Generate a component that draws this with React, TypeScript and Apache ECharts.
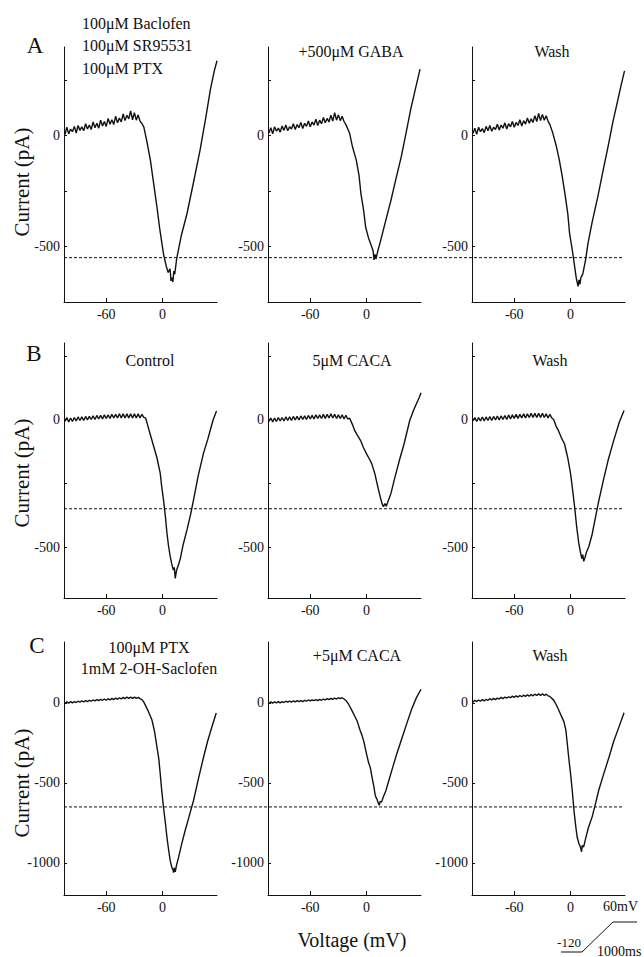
import * as React from "react";
import * as echarts from "echarts";

// voltage steps (mV) of the noisy plateau, shared by all nine traces
const flatV = [
  -104, -102, -100, -98, -96, -94, -92, -90, -88, -86,
  -84, -82, -80, -78, -76, -74, -72, -70, -68, -66,
  -64, -62, -60, -58, -56, -54, -52, -50, -48, -46,
  -44, -42, -40, -38, -36, -34, -32, -30, -28, -26,
  -24,
];

// row A: 100µM Baclofen / SR95531 / PTX, +500µM GABA, Wash
const a1Flat = [5, 38, 8, 30, 18, 42, 12, 46, 24, 40, 22, 54, 30, 48, 28, 62, 36, 56, 34, 70, 44, 64, 42, 78, 52, 72, 50, 88, 58, 80, 62, 98, 68, 92, 76, 112, 72, 104, 70, 94, 66];
const a1Ramp = [[-22, 55], [-20, 40], [-17, -20], [-13, -109], [-10, -200], [-6, -321], [-3, -420], [1, -533], [4, -590], [6, -617], [8, -600], [9, -655], [10, -640], [11, -660], [12, -610], [13, -625], [15, -556], [20, -450], [26, -352], [33, -210], [40, -64], [46, 80], [51, 209], [55, 290], [58, 338]];
const a2Flat = [12, 36, 8, 40, 20, 34, 16, 44, 24, 48, 22, 40, 30, 54, 28, 50, 36, 60, 32, 56, 42, 66, 40, 62, 48, 74, 46, 70, 54, 82, 58, 78, 62, 92, 66, 104, 70, 94, 68, 88, 64];
const a2Ramp = [[-22, 50], [-20, 30], [-18, 10], [-15, -50], [-11, -109], [-8, -180], [-6, -261], [-3, -340], [-1, -412], [2, -460], [5, -495], [7, -520], [8, -560], [9, -535], [10, -556], [12, -520], [15, -473], [20, -390], [26, -291], [31, -200], [37, -94], [42, 10], [47, 118], [52, 210], [57, 300]];
const a3Flat = [10, 34, 6, 38, 18, 32, 14, 42, 22, 46, 20, 38, 28, 52, 26, 48, 34, 58, 30, 54, 40, 64, 38, 60, 46, 72, 44, 68, 52, 80, 56, 76, 60, 90, 64, 100, 68, 96, 70, 90, 66];
const a3Ramp = [[-22, 50], [-19, 13], [-15, -50], [-12, -109], [-9, -180], [-6, -261], [-3, -350], [-1, -442], [2, -520], [4, -579], [6, -640], [7, -660], [8, -680], [9, -650], [10, -670], [11, -640], [13, -624], [16, -560], [18.5, -488], [23, -390], [29, -276], [35, -150], [40, -48], [45, 60], [50.5, 164], [54, 230], [57.5, 292]];

// row B: Control, 5µM CACA, Wash
const b1Flat = [-8, 8, -10, 6, -8, 8, -6, 10, -4, 10, -4, 12, -2, 12, 0, 14, 0, 16, 2, 16, 2, 18, 4, 18, 4, 20, 6, 20, 6, 22, 6, 22, 6, 22, 6, 22, 6, 22, 6, 22, 6];
const b1Ramp = [[-22, 20], [-20, 8], [-18, 5], [-16.6, -13], [-13, -60], [-9.5, -105], [-6, -150], [-2.5, -210], [-1, -260], [1, -315], [3, -380], [4.7, -446], [6.5, -500], [8.2, -538], [10, -570], [11.5, -590], [12.5, -580], [13.5, -623], [15, -590], [17, -570], [19, -544], [22, -490], [26, -433], [30, -370], [33, -315], [38, -220], [43.7, -131], [48, -80], [51, -39], [54, 0], [57.5, 33]];
const b2Flat = [-8, 6, -10, 6, -8, 8, -6, 8, -6, 10, -4, 10, -4, 12, -2, 12, -2, 14, 0, 14, 0, 16, 2, 16, 2, 18, 4, 18, 4, 20, 4, 20, 6, 22, 6, 20, 4, 18, 4, 18, 2];
const b2Ramp = [[-22, 16], [-20, 2], [-18, 5], [-15, -20], [-12.7, -43], [-10, -60], [-6, -85], [-3.6, -108], [0, -135], [3, -155], [5.5, -173], [9, -215], [12, -264], [15, -310], [16.5, -330], [18, -342], [19.5, -330], [21, -340], [23, -320], [26, -290], [30, -230], [35, -160], [40, -95], [46, -4], [50, 35], [53, 61], [56, 85], [58, 105]];
const b3Flat = [-6, 8, -8, 8, -6, 10, -6, 10, -4, 12, -4, 12, -2, 14, -2, 14, 0, 16, 0, 18, 2, 18, 4, 20, 4, 20, 6, 22, 6, 22, 8, 24, 8, 24, 8, 24, 8, 24, 8, 22, 6];
const b3Ramp = [[-22, 20], [-20, 6], [-18, 0], [-15, -30], [-13, -43], [-10, -70], [-6.5, -95], [-3, -150], [0, -212], [2, -270], [4.3, -342], [6.5, -420], [8.7, -484], [10.5, -520], [12, -545], [13, -530], [14, -556], [15.5, -540], [17, -520], [19.6, -497], [23, -450], [26, -394], [30, -320], [35, -238], [40, -160], [46, -82], [52, -10], [57, 35]];

// row C: 100µM PTX + 1mM 2-OH-Saclofen, +5µM CACA, Wash
const c1Flat = [-4, 6, -2, 8, 0, 8, 2, 10, 4, 12, 6, 14, 8, 16, 10, 18, 12, 20, 14, 22, 16, 24, 16, 26, 18, 28, 20, 30, 22, 32, 24, 34, 26, 36, 28, 36, 28, 36, 28, 34, 26];
const c1Ramp = [[-22, 20], [-20, 5], [-18.5, -13], [-15, -55], [-11.3, -107], [-8.5, -180], [-6, -275], [-4, -350], [-2.5, -442], [-1, -540], [1, -652], [3, -750], [4.7, -841], [6.5, -920], [8.2, -987], [10, -1030], [11, -1040], [11.7, -1060], [12.5, -1030], [13.5, -1055], [15, -1010], [17, -967], [20, -890], [24, -799], [28, -715], [33, -610], [38, -480], [43.7, -338], [48, -240], [52.6, -149], [57.2, -63]];
const c2Flat = [-4, 6, -2, 6, 0, 8, 0, 8, 2, 10, 4, 10, 4, 12, 6, 14, 8, 14, 8, 16, 10, 18, 12, 18, 14, 20, 14, 22, 16, 24, 18, 26, 20, 28, 22, 30, 24, 32, 26, 32, 24];
const c2Ramp = [[-22, 15], [-19, -10], [-15, -55], [-12, -90], [-10, -114], [-7, -170], [-5, -200], [-3, -239], [0, -320], [2, -370], [4, -405], [6, -470], [8, -530], [9, -570], [10, -590], [11, -600], [12.5, -625], [13.5, -640], [14.5, -615], [16, -620], [18, -585], [20.5, -550], [24, -480], [28, -400], [32, -322], [38, -215], [43.7, -114], [48, -40], [53, 31], [58, 85]];
const c3Flat = [4, 16, 8, 18, 10, 20, 12, 22, 16, 26, 18, 28, 20, 30, 24, 34, 26, 36, 30, 38, 32, 42, 34, 44, 36, 46, 38, 48, 40, 50, 42, 52, 44, 54, 46, 56, 46, 56, 46, 54, 44];
const c3Ramp = [[-22, 40], [-20, 28], [-18, 17], [-15, -15], [-12.5, -46], [-10, -80], [-7, -119], [-5, -170], [-3.5, -254], [-2, -340], [0, -442], [2, -560], [3.6, -671], [5.5, -770], [7, -838], [9, -880], [10.5, -900], [11.7, -930], [12.5, -890], [14, -900], [16, -848], [19, -780], [23, -712], [27, -620], [30, -546], [35, -450], [41, -338], [46, -240], [51.6, -150], [57, -62]];

const flats = [[a1Flat, a2Flat, a3Flat], [b1Flat, b2Flat, b3Flat], [c1Flat, c2Flat, c3Flat]];
const ramps = [[a1Ramp, a2Ramp, a3Ramp], [b1Ramp, b2Ramp, b3Ramp], [c1Ramp, c2Ramp, c3Ramp]];

const xMin = -105, xMax = 58;
const xLabels = [-60, 0];
const rowYMin = [-750, -700, -1200];
const rowYMax = [400, 300, 380];
const rowYLabels = [[-500, 0], [-500, 0], [-1000, -500, 0]];
const rowYTicks = [[-750, -500, -250, 0, 250], [-500, -250, 0, 250], [-1000, -500, 0]];
const refCurrent = [-550, -350, -650]; // dashed reference level per row

const rowLetters = ["A", "B", "C"];
const titles = [
  [["100μM Baclofen", "100μM SR95531", "100μM PTX"], ["+500μM GABA"], ["Wash"]],
  [["Control"], ["5μM CACA"], ["Wash"]],
  [["100μM PTX", "1mM 2-OH-Saclofen"], ["+5μM CACA"], ["Wash"]],
];

const FONT = "'Liberation Serif', 'Times New Roman', serif";
const colLeft = [64, 268, 472];
const colWidth = 153;
const rowTop = [47, 343, 642];
const rowHeight = [255, 255, 253];

export default function App() {
  const ref = React.useRef<HTMLDivElement>(null);
  React.useEffect(() => {
    if (!ref.current) return;
    const chart = echarts.init(ref.current, undefined, { renderer: "svg" });
    const grid: any[] = [], xAxis: any[] = [], yAxis: any[] = [], series: any[] = [];
    const axisLine = { onZero: false, lineStyle: { color: "#111", width: 1 } };
    const plain = (v: number) => String(v);
    for (let r = 0; r < 3; r++) {
      for (let c = 0; c < 3; c++) {
        const gi = grid.length;
        grid.push({ left: colLeft[c], top: rowTop[r], width: colWidth, height: rowHeight[r] });
        xAxis.push({
          type: "value", gridIndex: gi, min: xMin, max: xMax,
          axisLine, splitLine: { show: false },
          axisTick: { inside: true, length: 4, customValues: xLabels, lineStyle: { color: "#111" } },
          axisLabel: { customValues: xLabels, formatter: plain, color: "#111", fontFamily: FONT, fontSize: 14, margin: 5 },
        });
        yAxis.push({
          type: "value", gridIndex: gi, min: rowYMin[r], max: rowYMax[r],
          axisLine, splitLine: { show: false },
          axisTick: { inside: true, length: 3, customValues: rowYTicks[r], lineStyle: { color: "#111" } },
          axisLabel: { customValues: rowYLabels[r], formatter: plain, color: "#111", fontFamily: FONT, fontSize: 14, margin: 4 },
        });
        const data = flatV.map((v, i) => [v, flats[r][c][i]]).concat(ramps[r][c]);
        series.push({
          type: "line", xAxisIndex: gi, yAxisIndex: gi, data,
          showSymbol: false, lineStyle: { color: "#111", width: 1.4 },
        });
      }
    }
    // overlay grid per row for the dashed reference level across all three panels
    for (let r = 0; r < 3; r++) {
      const gi = grid.length;
      grid.push({ left: colLeft[0], top: rowTop[r], width: colLeft[2] + colWidth - colLeft[0] - 2, height: rowHeight[r] });
      xAxis.push({ type: "value", gridIndex: gi, min: 0, max: 1, show: false });
      yAxis.push({ type: "value", gridIndex: gi, min: rowYMin[r], max: rowYMax[r], show: false });
      series.push({
        type: "line", xAxisIndex: gi, yAxisIndex: gi, showSymbol: false,
        data: [[0, refCurrent[r]], [1, refCurrent[r]]],
        lineStyle: { color: "#111", width: 1, type: [3, 2] },
      });
    }

    const txt = (x: number, y: number, text: string, size: number, align = "center", extra: any = {}) => ({
      type: "text", x, y, ...extra,
      style: { text, fill: "#111", font: `${size}px ${FONT}`, textAlign: align, textVerticalAlign: "middle" },
    });
    const graphic: any[] = [];
    const letterPos = [[35, 45], [34, 353], [37, 645]];
    const ylabelY = [182, 473, 783];
    rowLetters.forEach((l, r) => {
      graphic.push(txt(letterPos[r][0], letterPos[r][1], l, 23));
      graphic.push(txt(22, ylabelY[r], "Current (pA)", 21, "center", { rotation: Math.PI / 2 }));
    });
    // panel titles
    titles[0][0].forEach((t, i) => graphic.push(txt(82, 23 + i * 22.5, t, 16, "left")));
    graphic.push(txt(351, 51, titles[0][1][0], 16));
    graphic.push(txt(552, 51, titles[0][2][0], 16));
    graphic.push(txt(150, 360, titles[1][0][0], 16));
    graphic.push(txt(352, 360, titles[1][1][0], 16));
    graphic.push(txt(550, 360, titles[1][2][0], 16));
    titles[2][0].forEach((t, i) => graphic.push(txt(149, 647 + i * 21.5, t, 16)));
    graphic.push(txt(357, 655, titles[2][1][0], 16));
    graphic.push(txt(550, 655, titles[2][2][0], 16));
    graphic.push(txt(352, 940, "Voltage (mV)", 20));
    // ramp protocol scale bar
    graphic.push({
      type: "polyline",
      shape: { points: [[561, 952], [582, 952], [613, 922], [637, 922]] },
      style: { stroke: "#111", lineWidth: 1, fill: null },
    });
    graphic.push(txt(638, 906, "60mV", 14, "right"));
    graphic.push(txt(569, 942, "-120", 13));
    graphic.push(txt(597, 951, "1000ms", 14, "left"));

    chart.setOption({ animation: false, grid, xAxis, yAxis, series, graphic });
    return () => chart.dispose();
  }, []);
  return <div ref={ref} style={{ position: "fixed", left: 0, top: 0, width: 644, height: 957, background: "#fff" }} />;
}
